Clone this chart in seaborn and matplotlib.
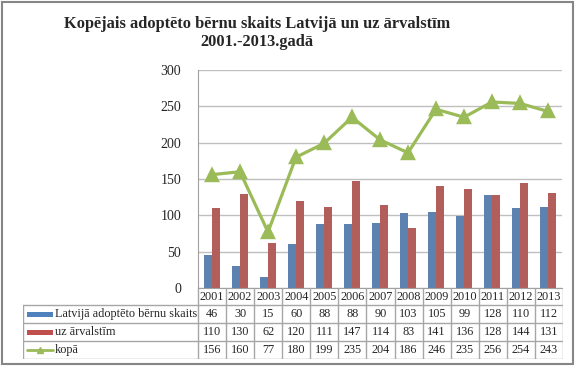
import numpy as np
import pandas as pd
import seaborn as sns
import matplotlib.pyplot as plt
from matplotlib.patches import Rectangle
from matplotlib.lines import Line2D

# dati
gadi = ['2001', '2002', '2003', '2004', '2005', '2006', '2007',
        '2008', '2009', '2010', '2011', '2012', '2013']
latvija = [46, 30, 15, 60, 88, 88, 90, 103, 105, 99, 128, 110, 112]
arvalstis = [110, 130, 62, 120, 111, 147, 114, 83, 141, 136, 128, 144, 131]
kopa = [156, 160, 77, 180, 199, 235, 204, 186, 246, 235, 256, 254, 243]

serijas = ['Latvijā adoptēto bērnu skaits', 'uz ārvalstīm', 'kopā']
krasas = ['#4F81BD', '#C0504D', '#9BBB59']
virsraksts = 'Kopējais adoptēto bērnu skaits Latvijā un uz ārvalstīm\n2001.-2013.gadā'

sns.set_style('white')
plt.rcParams['font.family'] = ['Liberation Serif', 'DejaVu Serif']

df = pd.DataFrame({'gads': gadi * 2,
                   'vertiba': latvija + arvalstis,
                   'serija': [serijas[0]] * len(gadi) + [serijas[1]] * len(gadi)})
df_kopa = pd.DataFrame({'gads': gadi, 'kopa': kopa})

W, H = 577, 367
fig = plt.figure(figsize=(W / 100, H / 100), dpi=100)

# ramis
fig.patches.append(Rectangle((2 / W, 3 / H), 571 / W, 362 / H, transform=fig.transFigure,
                             fill=False, edgecolor='#868686', lw=1.5))

fig.text(257 / W, 1 - 33 / H, virsraksts, ha='center', va='center',
         fontsize=11.8, weight='bold', linespacing=1.25)

# grafiks
ax = fig.add_axes([198 / W, 1 - 288 / H, 364 / W, 218 / H])
sns.barplot(data=df, x='gads', y='vertiba', hue='serija', palette=krasas[:2],
            width=0.58, gap=0, linewidth=0, legend=False, ax=ax)
sns.pointplot(data=df_kopa, x='gads', y='kopa', color=krasas[2], markers='^',
              markersize=8, linewidth=2.3, ax=ax)
ax.set_ylim(0, 300)
ax.set_xlim(-0.5, len(gadi) - 0.5)
ax.set_yticks(range(0, 301, 50))
ax.yaxis.grid(True, color='#BFBFBF', lw=1)
ax.set_axisbelow(True)
ax.set_xlabel('')
ax.set_ylabel('')
ax.set_xticks(np.arange(-0.5, len(gadi)), [''] * (len(gadi) + 1))
ax.tick_params(axis='x', length=4, color='#A0A0A0', width=1)
ax.tick_params(axis='y', length=0, pad=12, labelsize=10)
for s in ['top', 'right']:
    ax.spines[s].set_visible(False)
for s in ['left', 'bottom']:
    ax.spines[s].set_color('#A0A0A0')

# datu tabula
tax = fig.add_axes([23 / W, 1 - 359 / H, 540 / W, 71 / H])
tax.set_xlim(23, 563)
tax.set_ylim(359, 288)
tax.axis('off')
lc = '#A6A6A6'
fs = 8.8
x0, x1 = 198, 563
cw = (x1 - x0) / len(gadi)
rindas = [288, 305, 323, 341, 359]
for y in rindas[1:]:
    tax.plot([23, x1], [y, y], color=lc, lw=1)
tax.plot([23, 23], [305, 359], color=lc, lw=1)
for i in range(len(gadi) + 1):
    tax.plot([x0 + i * cw] * 2, [288, 359], color=lc, lw=1)
for i, g in enumerate(gadi):
    tax.text(x0 + (i + 0.5) * cw, (288 + 305) / 2, g, ha='center', va='center', fontsize=fs)
for r, vals in enumerate([latvija, arvalstis, kopa]):
    yc = (rindas[r + 1] + rindas[r + 2]) / 2
    for i, v in enumerate(vals):
        tax.text(x0 + (i + 0.5) * cw, yc, str(v), ha='center', va='center', fontsize=fs)
    tax.text(55, yc, serijas[r], ha='left', va='center', fontsize=fs)
    if r < 2:
        tax.add_patch(Rectangle((27, yc - 2.5), 26, 5, color=krasas[r], lw=0))
    else:
        tax.add_line(Line2D([27, 53], [yc, yc], color=krasas[r], lw=2))
        tax.plot([40], [yc], marker='^', color=krasas[r], markersize=5)

fig.savefig('out.png', dpi=100)
